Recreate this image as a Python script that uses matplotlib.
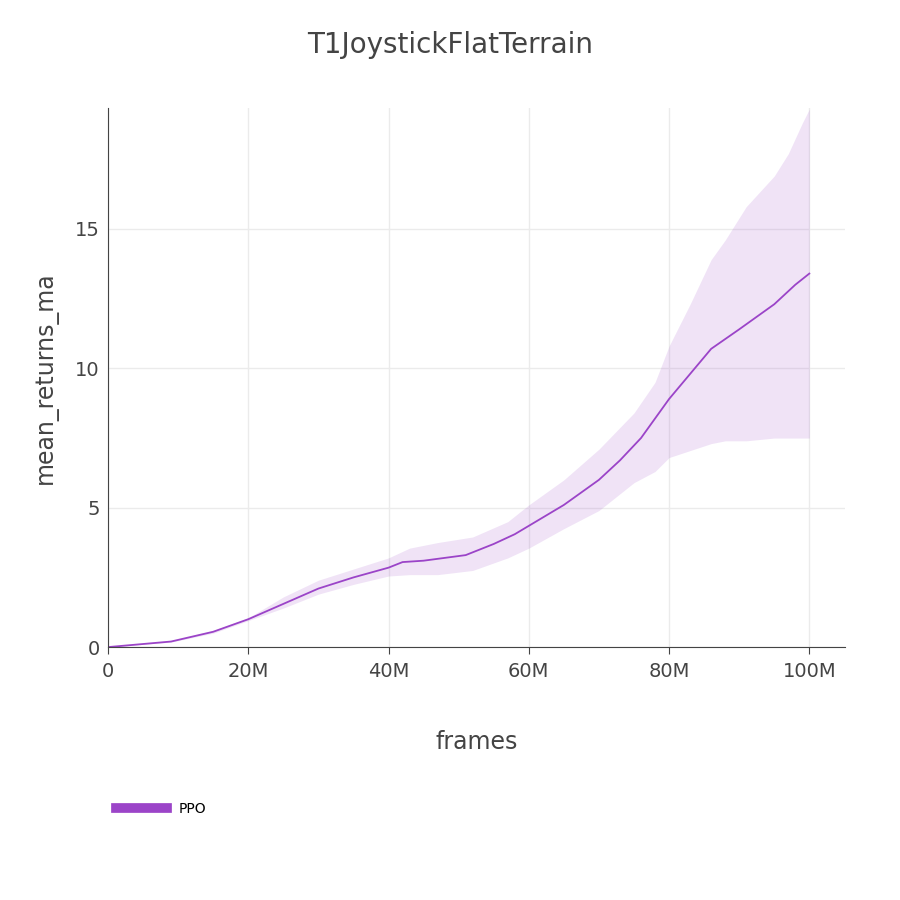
import matplotlib
matplotlib.use("Agg")
import matplotlib.pyplot as plt
from matplotlib.ticker import FuncFormatter

# Data (frames in millions)
mean_x = [0, 9, 15, 20, 25, 30, 35, 40, 42, 45, 51, 55, 58, 60, 65, 70, 73, 76, 80, 83, 86, 90, 95, 98, 100]
mean_y = [0, 0.2, 0.55, 1.0, 1.55, 2.1, 2.5, 2.85, 3.05, 3.1, 3.3, 3.7, 4.05, 4.35, 5.1, 6.0, 6.7, 7.5, 8.9, 9.8, 10.7, 11.4, 12.3, 13.0, 13.4]

upper_x = [0, 9, 15, 20, 25, 30, 35, 40, 43, 47, 52, 57, 60, 65, 70, 75, 78, 80, 83, 86, 88, 91, 95, 97, 99, 100]
upper_y = [0, 0.22, 0.6, 1.05, 1.8, 2.4, 2.8, 3.2, 3.55, 3.75, 3.95, 4.5, 5.1, 6.0, 7.1, 8.4, 9.5, 10.8, 12.3, 13.9, 14.6, 15.8, 16.9, 17.7, 18.8, 19.3]

lower_x = upper_x
lower_y = [0, 0.18, 0.5, 0.95, 1.4, 1.9, 2.25, 2.55, 2.6, 2.6, 2.75, 3.2, 3.55, 4.25, 4.9, 5.9, 6.3, 6.8, 7.05, 7.3, 7.4, 7.4, 7.5, 7.5, 7.5, 7.5]

COLOR = "#9b44c8"

fig = plt.figure(figsize=(9, 9), dpi=100)
ax = fig.add_axes([0.12, 0.281, 0.819, 0.599])

ax.fill_between([x * 1e6 for x in upper_x], lower_y, upper_y, color=COLOR, alpha=0.15, linewidth=0)
ax.plot([x * 1e6 for x in mean_x], mean_y, color=COLOR, linewidth=1.3, label="PPO")

ax.set_xlim(0, 105.1e6)
ax.set_ylim(0, 19.34)
ax.set_xticks([0, 20e6, 40e6, 60e6, 80e6, 100e6])
ax.set_yticks([0, 5, 10, 15])
ax.xaxis.set_major_formatter(FuncFormatter(lambda v, p: "0" if v == 0 else f"{int(v / 1e6)}M"))
ax.grid(True, color="#ebebeb", linewidth=1)
ax.set_axisbelow(True)
for s in ["top", "right"]:
    ax.spines[s].set_visible(False)
for s in ["left", "bottom"]:
    ax.spines[s].set_color("#444444")
ax.tick_params(labelsize=14, colors="#444444", length=0, pad=6)
ax.tick_params(axis="x", length=5)

ax.set_xlabel("frames", fontsize=17, color="#444444", labelpad=35)
ax.set_ylabel("mean_returns_ma", fontsize=17, color="#444444", labelpad=12)
fig.text(0.5, 0.95, "T1JoystickFlatTerrain", ha="center", va="center", fontsize=20, color="#444444")

leg = fig.legend(handles=ax.get_lines(), loc="center left", bbox_to_anchor=(0.115, 0.101),
                 frameon=False, fontsize=10, handlelength=3.7)
for line in leg.get_lines():
    line.set_linewidth(7)

fig.savefig("out.png", dpi=100)
